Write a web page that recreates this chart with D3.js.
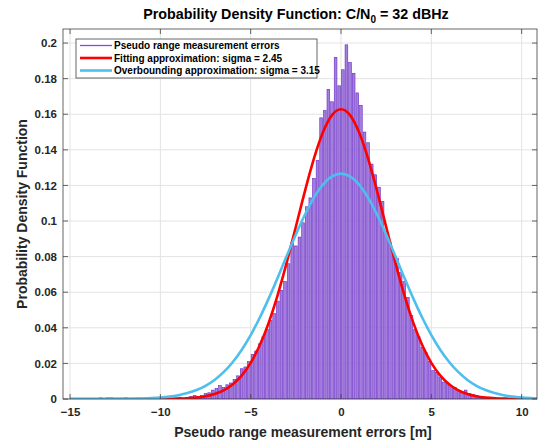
<!DOCTYPE html>
<html><head><meta charset="utf-8">
<script src="https://cdn.jsdelivr.net/npm/d3@7"></script>
<style>
body{margin:0;background:#fff}
text{font-family:"Liberation Sans",Arial,Helvetica,sans-serif;font-weight:bold}
</style>
</head><body>
<svg id="c" width="540" height="445"></svg>
<script>
// ---- data ----
const binStart = -13.6;
const binWidth = 0.2;
const density = [
 0,0.0006,0,0.0006,0.0006,0,0,0,0.0006,0,0,0,0,0,0,0,0,0,0,0,
 0.0005,0,0.0005,0.001,0.0005,0.001,0.0015,0.002,0.0015,0.002,
 0.003,0.0035,0.005,0.006,0.0075,0.0065,0.008,0.009,0.011,0.013,
 0.017,0.018,0.021,0.025,0.027,0.031,0.035,0.039,0.044,0.048,
 0.055,0.061,0.066,0.076,0.088,0.086,0.091,0.099,0.108,0.113,
 0.124,0.134,0.158,0.162,0.174,0.167,0.192,0.176,0.185,0.199,
 0.189,0.183,0.172,0.165,0.150,0.144,0.132,0.126,0.119,0.111,
 0.093,0.088,0.082,0.079,0.071,0.066,0.057,0.047,0.039,0.035,
 0.029,0.026,0.021,0.016,0.015,0.012,0.0095,0.009,0.007,0.0065,
 0.005,0.004,0.005,0.003,0.0025,0.002,0.001,0.001,0.0005,0.001,
 0.001,0.0005,0,0.0005
];
const curveX = [-15,-14.5,-14,-13.5,-13,-12.5,-12,-11.5,-11,-10.5,-10,-9.5,-9,-8.5,-8,-7.5,-7,-6.5,-6,-5.5,-5,-4.5,-4,-3.5,-3,-2.5,-2,-1.5,-1,-0.5,
 0,0.5,1,1.5,2,2.5,3,3.5,4,4.5,5,5.5,6,6.5,7,7.5,8,8.5,9,9.5,10,10.5,11];
const fitting = [0,0,0,0,0,0,0.000001,0.000003,0.000007,0.000017,0.00004,0.00009,0.00019,0.0004,0.00079,0.0015,0.00275,0.00482,0.00812,0.01311,0.0203,0.03015,0.04295,0.05869,0.07694,0.09676,0.1167,0.13501,0.14982,0.15948,
 0.16284,0.15948,0.14982,0.13501,0.1167,0.09676,0.07694,0.05869,0.04295,0.03015,0.0203,0.01311,0.00812,0.00482,0.00275,0.0015,0.00079,0.0004,0.00019,0.00009,0.00004,0.000017,0.000007];
const overbound = [0.0000015,0.000003,0.0000065,0.000013,0.00003,0.00005,0.00009,0.00016,0.00028,0.00049,0.00082,0.00134,0.00214,0.00332,0.00503,0.00744,0.01072,0.01507,0.02065,0.02758,0.03593,0.04565,0.05655,0.06832,0.08047,0.09244,0.10353,0.11307,0.12043,0.12506,
 0.12665,0.12506,0.12043,0.11307,0.10353,0.09244,0.08047,0.06832,0.05655,0.04565,0.03593,0.02758,0.02065,0.01507,0.01072,0.00744,0.00503,0.00332,0.00214,0.00134,0.00082,0.00049,0.00028];
const xTicks = [-15,-10,-5,0,5,10];
const yTicks = [0,0.02,0.04,0.06,0.08,0.1,0.12,0.14,0.16,0.18,0.2];
const legendLabels = ["Pseudo range measurement errors","Fitting approximation: sigma = 2.45","Overbounding approximation: sigma = 3.15"];
const titleText = "Probability Density Function: C/N";
const xLabel = "Pseudo range measurement errors [m]";
const yLabel = "Probability Density Function";

// ---- layout ----
const L = 63, R = 537, T = 29, B = 399;
const svg = d3.select("#c");
const x = d3.scaleLinear().domain([-15.39, 10.85]).range([L, R]);
const y = d3.scaleLinear().domain([0, 0.2079]).range([B, T]);

// grid
const g = svg.append("g");
g.selectAll(".gx").data(xTicks).enter().append("line")
 .attr("x1", d => x(d)).attr("x2", d => x(d)).attr("y1", T).attr("y2", B)
 .attr("stroke", "#e3e3e3").attr("stroke-width", 1);
g.selectAll(".gy").data(yTicks).enter().append("line")
 .attr("y1", d => y(d)).attr("y2", d => y(d)).attr("x1", L).attr("x2", R)
 .attr("stroke", "#e3e3e3").attr("stroke-width", 1);

svg.append("clipPath").attr("id", "clip").append("rect")
 .attr("x", L).attr("y", T).attr("width", R - L).attr("height", B - T);
const plot = svg.append("g").attr("clip-path", "url(#clip)");

// histogram
const bins = density.map((v, i) => ({x0: binStart + i * binWidth, v}));
plot.selectAll(".bar").data(bins.filter(b => b.v > 0)).enter().append("rect")
 .attr("x", d => x(d.x0) + 0.45)
 .attr("width", d => x(d.x0 + binWidth) - x(d.x0) - 0.9)
 .attr("y", d => y(d.v))
 .attr("height", d => y(0) - y(d.v))
 .attr("fill", "#a27fda").attr("stroke", "#6a28c8").attr("stroke-width", 0.6);

// curves
const pts = curveX.map((cx, i) => [cx, fitting[i], overbound[i]]);
const lineF = d3.line().x(d => x(d[0])).y(d => y(d[1])).curve(d3.curveMonotoneX);
const lineO = d3.line().x(d => x(d[0])).y(d => y(d[2])).curve(d3.curveMonotoneX);
plot.append("path").attr("d", lineF(pts)).attr("fill", "none").attr("stroke", "#ff0000").attr("stroke-width", 2.6);
plot.append("path").attr("d", lineO(pts)).attr("fill", "none").attr("stroke", "#4dbeee").attr("stroke-width", 2.6);

// axes box + ticks
svg.append("rect").attr("x", L).attr("y", T).attr("width", R - L).attr("height", B - T)
 .attr("fill", "none").attr("stroke", "#404040").attr("stroke-width", 0.8);
const axB = d3.axisBottom(x).tickValues(xTicks).tickSize(0).tickPadding(9).tickFormat(d3.format("d"));
const axL = d3.axisLeft(y).tickValues(yTicks).tickSize(0).tickPadding(6).tickFormat(d => d === 0 ? "0" : String(+d.toFixed(2)));
const gb = svg.append("g").attr("transform", `translate(0,${B})`).call(axB);
const gl = svg.append("g").attr("transform", `translate(${L},0)`).call(axL);
[gb, gl].forEach(a => { a.select(".domain").remove(); a.selectAll("text").attr("fill", "#262626").style("font-size", "11.5px").style("font-weight", "bold").style("font-family", '"Liberation Sans",Arial,sans-serif'); });
// inward tick marks on all sides
xTicks.forEach(t => {
 svg.append("line").attr("x1", x(t)).attr("x2", x(t)).attr("y1", B).attr("y2", B - 5).attr("stroke", "#404040").attr("stroke-width", 0.8);
 svg.append("line").attr("x1", x(t)).attr("x2", x(t)).attr("y1", T).attr("y2", T + 5).attr("stroke", "#404040").attr("stroke-width", 0.8);
});
yTicks.forEach(t => {
 svg.append("line").attr("x1", L).attr("x2", L + 5).attr("y1", y(t)).attr("y2", y(t)).attr("stroke", "#404040").attr("stroke-width", 0.8);
 svg.append("line").attr("x1", R).attr("x2", R - 5).attr("y1", y(t)).attr("y2", y(t)).attr("stroke", "#404040").attr("stroke-width", 0.8);
});

// title
const tt = svg.append("text").attr("x", 296).attr("y", 19).attr("text-anchor", "middle")
 .attr("fill", "#000").style("font-size", "14.3px");
tt.append("tspan").text(titleText);
tt.append("tspan").attr("dy", 4).style("font-size", "10px").text("0");
tt.append("tspan").attr("dy", -4).text(" = 32 dBHz");

// axis labels
svg.append("text").attr("x", 303).attr("y", 437).attr("text-anchor", "middle")
 .attr("fill", "#262626").style("font-size", "14px").text(xLabel);
svg.append("text").attr("transform", `translate(27,${(T + B) / 2}) rotate(-90)`).attr("text-anchor", "middle")
 .attr("fill", "#262626").style("font-size", "14px").text(yLabel);

// legend
const lg = svg.append("g");
lg.append("rect").attr("x", 76).attr("y", 39).attr("width", 241).attr("height", 39)
 .attr("fill", "#fff").attr("stroke", "#404040").attr("stroke-width", 0.8);
const lColors = ["#8a45e8", "#ff0000", "#4dbeee"];
const lWidths = [1.3, 2.6, 2.6];
legendLabels.forEach((lab, i) => {
 const cy = 45.5 + i * 12.5;
 lg.append("line").attr("x1", 80).attr("x2", 112).attr("y1", cy).attr("y2", cy)
  .attr("stroke", lColors[i]).attr("stroke-width", lWidths[i]);
 lg.append("text").attr("x", 114).attr("y", cy + 3.6).attr("fill", "#000")
  .style("font-size", "10px").text(lab);
});
</script>
</body></html>
